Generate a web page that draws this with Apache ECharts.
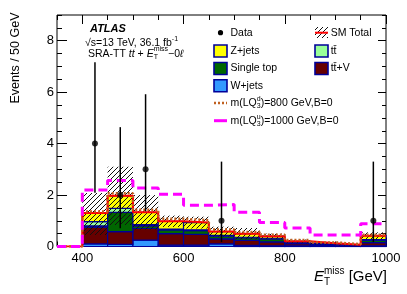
<!DOCTYPE html>
<html><head><meta charset="utf-8">
<script src="https://cdn.jsdelivr.net/npm/echarts@6/dist/echarts.min.js"></script>
<style>html,body{margin:0;padding:0;background:#fff}#c{width:407px;height:294px}</style>
</head><body><div id="c"></div>
<script>
// ---- data ----
const binEdges = [350,400,450,500,550,600,650,700,750,800,850,900,950,1000];
const wjets     = [0,0.10,0.08,0.25,0.05,0.05,0.10,0.04,0.03,0.03,0.04,0.01,0.03];
const ttV       = [0,0.65,0.50,0.45,0.45,0.42,0.20,0.20,0.15,0.08,0.04,0.03,0.12];
const singleTop = [0,0.05,0.75,0.10,0.15,0.15,0.10,0.10,0.12,0.05,0.02,0.01,0.10];
const ttbar     = [0,0.17,0.15,0.05,0.03,0.03,0.03,0.02,0.02,0.01,0.01,0.00,0.02];
const zjets     = [0,0.33,0.49,0.48,0.30,0.28,0.15,0.14,0.08,0.03,0.02,0.02,0.15];
const bandLow   = [0,0.45,0.84,0.66,0.76,0.70,0.39,0.28,0.30,0.13,0.08,0.04,0.29];
const bandHigh  = [0,2.08,3.10,2.00,1.20,1.16,0.77,0.72,0.50,0.27,0.18,0.10,0.55];
const lqd800    = [0,1.36,2.07,1.43,1.08,1.02,0.66,0.56,0.46,0.25,0.16,0.09,0.46];
const lqu1000   = [0,2.20,2.57,2.27,2.03,1.60,1.63,1.33,0.93,0.72,0.45,0.45,0.88];
const dataX     = [425,475,525,675,975];
const dataY     = [4,2,3,1,1];
const dataErrLo = [1.91,1.29,1.63,0.83,0.83];
const dataErrHi = [3.16,2.64,2.92,2.30,2.30];
const xMajor = [400,600,800,1000];
const xMinor = [350,400,450,500,550,600,650,700,750,800,850,900,950,1000];
const yMajor = [0,2,4,6,8];
const yMinor = [0,0.5,1,1.5,2,2.5,3,3.5,4,4.5,5,5.5,6,6.5,7,7.5,8,8.5,9];

// ---- styling ----
const FONT = "'Liberation Sans', Arial, Helvetica, sans-serif";
const NAVY = '#000099';
const components = [
  {name:'W+jets', vals:wjets, color:'#3399ff'},
  {name:'tt\u0304+V', vals:ttV, color:'#660000'},
  {name:'Single top', vals:singleTop, color:'#006600'},
  {name:'tt\u0304', vals:ttbar, color:'#99ff99'},
  {name:'Z+jets', vals:zjets, color:'#ffff00'}
];

function hatchPattern(){
  const c = document.createElement('canvas'); c.width = 5; c.height = 5;
  const g = c.getContext('2d'); g.strokeStyle = '#111'; g.lineWidth = 1;
  g.beginPath(); g.moveTo(0,5); g.lineTo(5,0); g.moveTo(-1,1); g.lineTo(1,-1); g.moveTo(4,6); g.lineTo(6,4); g.stroke();
  return {image:c, repeat:'repeat'};
}
const HATCH = hatchPattern();

const mctx = document.createElement('canvas').getContext('2d');
function fontStr(p){ return (p.style||'normal')+' '+(p.weight||'normal')+' '+p.size+'px '+FONT; }
function tw(p){ mctx.font = fontStr(p); return mctx.measureText(p.t).width; }
function runWidth(pieces){
  let x=0, lastX=0;
  pieces.forEach(p=>{ const w=tw(p); let px = p.stack? lastX : x; if(p.stack){ x=Math.max(x,px+w);} else {lastX=px; x=px+w;} });
  return x;
}
function textRun(x0, y, pieces){
  let x=x0, lastX=x0; const els=[];
  pieces.forEach(p=>{
    const w=tw(p); const px = p.stack? lastX : x;
    els.push({type:'text', silent:true, style:{text:p.t, x:px, y:y+(p.dy||0), fontSize:p.size, fontFamily:FONT,
      fontStyle:p.style||'normal', fontWeight:p.weight||'normal', fill:'#000', align:'left', verticalAlign:'middle',
      textAlign:'left', textVerticalAlign:'middle'}});
    if(p.stack){ x=Math.max(x,px+w);} else {lastX=px; x=px+w;}
  });
  return els;
}

// ---- derived series data ----
const nb = binEdges.length-1;
const base = new Array(nb).fill(0);
const compSeries = components.map((c,ci)=>{
  const d=[];
  for(let i=0;i<nb;i++){ if(c.vals[i]>0){ d.push([binEdges[i],binEdges[i+1],base[i],base[i]+c.vals[i]]); } base[i]+=c.vals[i]; }
  return {type:'custom', name:c.name, z:2, data:d, renderItem:(params,api)=>{
    const p0=api.coord([api.value(0),api.value(3)]), p1=api.coord([api.value(1),api.value(2)]);
    return {type:'rect', shape:{x:p0[0],y:p0[1],width:p1[0]-p0[0],height:p1[1]-p0[1]}, style:{fill:c.color, stroke:NAVY, lineWidth:1.2}};
  }};
});
const smTotal = base.slice();
const hatchData=[];
for(let i=0;i<nb;i++){ if(smTotal[i]>0) hatchData.push([binEdges[i],binEdges[i+1],bandLow[i],bandHigh[i]]); }
function stepData(vals){ const d=vals.map((v,i)=>[binEdges[i],v]); d.push([binEdges[nb],vals[nb-1]]); return d; }

const series = compSeries.concat([
  {type:'custom', name:'SM Total band', z:3, data:hatchData, renderItem:(params,api)=>{
    const p0=api.coord([api.value(0),api.value(3)]), p1=api.coord([api.value(1),api.value(2)]);
    return {type:'rect', shape:{x:p0[0],y:p0[1],width:p1[0]-p0[0],height:p1[1]-p0[1]}, style:{fill:HATCH, stroke:null}};
  }},
  {type:'line', name:'SM Total', z:4, step:'end', showSymbol:false, symbol:'none', data:stepData(smTotal), lineStyle:{color:'#ff0000', width:2}},
  {type:'line', name:'LQd800', z:5, step:'end', showSymbol:false, symbol:'none', data:stepData(lqd800), lineStyle:{color:'#c06020', width:2.5, type:[2,2]}},
  {type:'line', name:'LQu1000', z:5, step:'end', showSymbol:false, symbol:'none', data:stepData(lqu1000), lineStyle:{color:'#ff00ff', width:3, type:[9,5]}},
  {type:'custom', name:'Data err', z:6, data:dataX.map((x,i)=>[x,dataY[i]-dataErrLo[i],dataY[i]+dataErrHi[i]]), renderItem:(params,api)=>{
    const a=api.coord([api.value(0),api.value(1)]), b=api.coord([api.value(0),api.value(2)]);
    return {type:'line', shape:{x1:a[0],y1:a[1],x2:b[0],y2:b[1]}, style:{stroke:'#000', lineWidth:1.5}};
  }},
  {type:'scatter', name:'Data', z:7, symbol:'circle', symbolSize:6, itemStyle:{color:'#000'}, data:dataX.map((x,i)=>[x,dataY[i]])}
]);

// ---- axes ----
function xAx(pos, ticks, len, labels){
  return {type:'value', min:350, max:1000, position:pos, gridIndex:0, splitLine:{show:false},
    axisLine:{show:false, onZero:false},
    axisTick:{show:true, inside:true, length:len, customValues:ticks, lineStyle:{color:'#000', width:1}},
    axisLabel: labels? {show:true, customValues:xMajor, formatter:v=>String(v), margin:5, fontSize:13, color:'#000', fontFamily:FONT, showMinLabel:true, showMaxLabel:true} : {show:false}};
}
function yAx(pos, ticks, len, labels){
  return {type:'value', min:0, max:9, position:pos, gridIndex:0, splitLine:{show:false},
    axisLine:{show:false, onZero:false},
    axisTick:{show:true, inside:true, length:len, customValues:ticks, lineStyle:{color:'#000', width:1}},
    axisLabel: labels? {show:true, customValues:yMajor, formatter:v=>String(v), margin:3, fontSize:13, color:'#000', fontFamily:FONT, showMinLabel:true, showMaxLabel:true} : {show:false}};
}

// ---- texts / legend ----
const g = [];
const T = 10.5;
g.push(...textRun(90, 29, [{t:'ATLAS', size:11, weight:'bold', style:'italic'}]));
g.push(...textRun(85, 43, [{t:'\u221As=13 TeV, 36.1 fb', size:T}, {t:'-1', size:7, dy:-4}]));
g.push(...textRun(88, 54, [{t:'SRA-TT ', size:T}, {t:'tt', size:T, style:'italic'}, {t:' + ', size:T},
  {t:'E', size:T, style:'italic'}, {t:'T', size:7, dy:3.5}, {t:'miss', size:7, dy:-5, stack:true}, {t:'\u22120', size:T}, {t:'\u2113', size:T, style:'italic'}]));

// axis titles
const xt = [{t:'E', size:15, style:'italic'}, {t:'T', size:10, dy:5}, {t:'miss', size:10, dy:-6, stack:true}, {t:' [GeV]', size:15}];
g.push(...textRun(387 - runWidth(xt), 277, xt));
g.push({type:'text', silent:true, x:16, y:58, rotation:Math.PI/2, style:{text:'Events / 50 GeV', x:0, y:0, fontSize:12.5, fontFamily:FONT, fill:'#000', align:'center', verticalAlign:'middle', textAlign:'center', textVerticalAlign:'middle'}});

// legend left column
const LX = 214, LTX = 230.5;
g.push({type:'circle', silent:true, shape:{cx:220.5, cy:32.7, r:2.6}, style:{fill:'#000'}});
g.push(...textRun(LTX, 32.7, [{t:'Data', size:T}]));
function box(x, y, color){ return {type:'rect', silent:true, shape:{x:x, y:y-6, width:13, height:12}, style:{fill:color, stroke:NAVY, lineWidth:1.6}}; }
g.push(box(LX, 51, '#ffff00')); g.push(...textRun(LTX, 51, [{t:'Z+jets', size:T}]));
g.push(box(LX, 68.5, '#006600')); g.push(...textRun(LTX, 68.5, [{t:'Single top', size:T}]));
g.push(box(LX, 85.8, '#3399ff')); g.push(...textRun(LTX, 85.8, [{t:'W+jets', size:T}]));
g.push({type:'line', silent:true, shape:{x1:214, y1:103, x2:227, y2:103}, style:{stroke:'#c06020', lineWidth:2.5, lineDash:[2,2]}});
g.push(...textRun(LTX, 103, [{t:'m(LQ', size:T}, {t:'d', size:7, dy:-3.5}, {t:'3', size:7, dy:3.5, stack:true}, {t:')=800 GeV,B=0', size:T}]));
g.push({type:'line', silent:true, shape:{x1:214, y1:120.7, x2:227, y2:120.7}, style:{stroke:'#ff00ff', lineWidth:3}});
g.push(...textRun(LTX, 120.7, [{t:'m(LQ', size:T}, {t:'u', size:7, dy:-3.5}, {t:'3', size:7, dy:3.5, stack:true}, {t:')=1000 GeV,B=0', size:T}]));
// legend right column
const RX = 315, RTX = 330.7;
g.push({type:'rect', silent:true, shape:{x:RX, y:27, width:13, height:11}, style:{fill:HATCH}});
g.push({type:'line', silent:true, shape:{x1:RX, y1:32.7, x2:RX+13, y2:32.7}, style:{stroke:'#ff0000', lineWidth:2}});
g.push(...textRun(RTX, 32.7, [{t:'SM Total', size:T}]));
g.push(box(RX, 51, '#99ff99')); g.push(...textRun(RTX, 51, [{t:'tt\u0304', size:T}]));
g.push(box(RX, 68.5, '#660000')); g.push(...textRun(RTX, 68.5, [{t:'tt\u0304+V', size:T}]));

const chart = echarts.init(document.getElementById('c'), null, {renderer:'canvas'});
chart.setOption({
  animation:false,
  backgroundColor:'#fff',
  grid:{left:57, right:21, top:15, bottom:47.5, show:true, borderColor:'#000', borderWidth:1, backgroundColor:'transparent', containLabel:false},
  xAxis:[xAx('bottom', xMajor, 9, true), xAx('bottom', xMinor, 5, false), xAx('top', xMajor, 9, false), xAx('top', xMinor, 5, false)],
  yAxis:[yAx('left', yMajor, 10, true), yAx('left', yMinor, 5, false), yAx('right', yMajor, 8, false), yAx('right', yMinor, 4, false)],
  series:series,
  graphic:g
});
</script></body></html>
